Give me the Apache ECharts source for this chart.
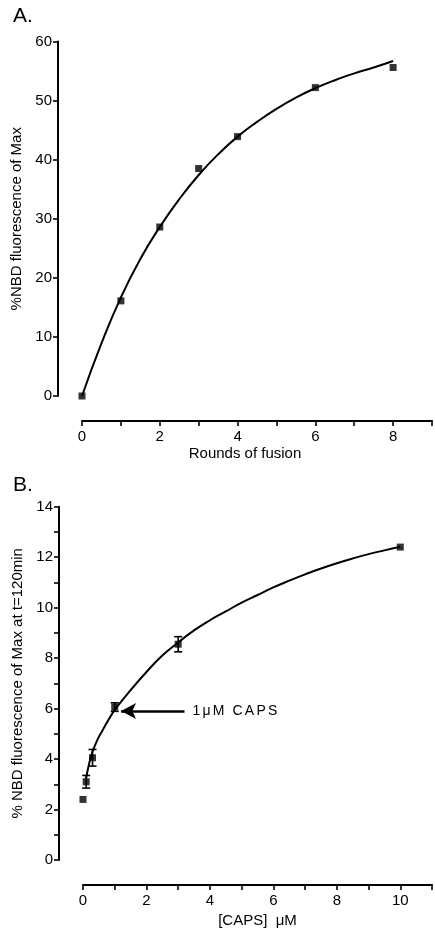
<!DOCTYPE html>
<html>
<head>
<meta charset="utf-8">
<script src="https://cdn.jsdelivr.net/npm/echarts@6/dist/echarts.min.js"></script>
<style>
  html, body { margin: 0; padding: 0; background: #fff; }
  #chart { width: 435px; height: 933px; }
</style>
</head>
<body>
<div id="chart"></div>
<script>
// panel A: rounds of fusion
var roundsX = [0, 1, 2, 3, 4, 6, 8];
var roundsY = [0, 16.1, 28.6, 38.5, 43.9, 52.2, 55.6];
// fitted curve
var fitAX = [0, 0.5, 1, 1.5, 2, 2.5, 3, 3.5, 4, 4.5, 5, 5.5, 6, 6.5, 7, 7.5, 8];
var fitAY = [0, 8.9, 16.7, 23.2, 28.6, 33.3, 37.4, 40.9, 43.9, 46.4, 48.6, 50.5, 52.1, 53.45, 54.6, 55.6, 56.7];

// panel B: CAPS concentration
var capsX = [0, 0.1, 0.3, 1, 3, 10];
var capsY = [2.4, 3.1, 4.05, 6.06, 8.55, 12.4];
var capsErr = [0, 0.25, 0.33, 0.17, 0.3, 0];
var fitBX = [0.1, 0.2, 0.3, 0.4, 0.5, 0.6, 0.7, 0.8, 0.9, 1, 1.5, 2, 2.5, 3, 3.5, 4, 4.5, 5,
	5.5, 6, 6.5, 7, 7.5, 8, 8.5, 9, 9.5, 10];
var fitBY = [3.25, 3.85, 4.3, 4.6, 4.88, 5.1, 5.33, 5.55, 5.76, 5.95, 6.73, 7.45, 8.1, 8.62, 9.1, 9.5, 9.85, 10.2,
	10.5, 10.8, 11.07, 11.32, 11.55, 11.76, 11.95, 12.12, 12.27, 12.41];

// arrow note
var noteFrom = [3.2, 5.9];
var noteTo = [1.2, 5.9];

var FONT = 'Liberation Sans, Arial, sans-serif';

function pairs(xs, ys){
	var out = [];
	for(var i = 0; i < xs.length; i++){
		out.push([xs[i], ys[i]]);
	}
	return out;
}

function evenOnly(v){
	return v % 2 === 0 ? String(v) : '';
}

function baseAxis(){
	return {
		type: 'value',
		axisLine: { show: true, onZero: false, lineStyle: { color: '#000', width: 2 } },
		axisTick: { show: true, inside: false, length: 5, lineStyle: { color: '#000', width: 1.6 } },
		splitLine: { show: false },
		axisLabel: { color: '#000', fontSize: 15, fontFamily: FONT },
		nameTextStyle: { color: '#000', fontSize: 15, fontFamily: FONT },
		nameLocation: 'middle'
	};
}

function xAxisOf(grid, max, name, gap, extra){
	var ax = baseAxis();
	ax.gridIndex = grid;
	ax.min = 0;
	ax.max = max;
	ax.interval = 1;
	ax.offset = 25;
	ax.name = name;
	ax.nameGap = gap;
	ax.axisLabel.margin = 8;
	ax.axisLabel.formatter = evenOnly;
	if(extra){
		ax.nameTextStyle.padding = extra;
	}
	return ax;
}

function yAxisOf(grid, max, interval, name, labels){
	var ax = baseAxis();
	ax.gridIndex = grid;
	ax.min = 0;
	ax.max = max;
	ax.interval = interval;
	ax.offset = 24;
	ax.name = name;
	ax.nameGap = 32;
	ax.axisLabel.margin = 6;
	if(labels){
		ax.axisLabel.formatter = labels;
	}
	return ax;
}

// spaced lettering, as in the figure
function spaced(txt){
	var out = '';
	for(var i = 0; i < txt.length; i++){
		var c = txt.charAt(i);
		out += c === ' ' ? '{g| }' : '{s|' + c + '}';
	}
	return out;
}

function errorBars(params, api){
	var x = api.value(0), y = api.value(1), e = api.value(2);
	if(!e){
		return null;
	}
	var top = api.coord([x, y + e]);
	var bot = api.coord([x, y - e]);
	var cap = 4;
	var st = { stroke: '#000', lineWidth: 1.6 };
	return {
		type: 'group',
		children: [
			{ type: 'line', shape: { x1: top[0], y1: top[1], x2: bot[0], y2: bot[1] }, style: st },
			{ type: 'line', shape: { x1: top[0] - cap, y1: top[1], x2: top[0] + cap, y2: top[1] }, style: st },
			{ type: 'line', shape: { x1: bot[0] - cap, y1: bot[1], x2: bot[0] + cap, y2: bot[1] }, style: st }
		]
	};
}

var errData = [];
for(var i = 0; i < capsX.length; i++){
	errData.push([capsX[i], capsY[i], capsErr[i]]);
}

var option = {
	animation: false,
	backgroundColor: '#fff',
	grid: [
		{ left: 82, width: 356.6, top: 41.5, height: 354.5 },
		{ left: 83, width: 354.5, top: 506.7, height: 353.3 }
	],
	xAxis: [
		xAxisOf(0, 9, 'Rounds of fusion', 25, [0, 24, 0, 0]),
		xAxisOf(1, 11, '[CAPS]  \u03bcM', 28)
	],
	yAxis: [
		yAxisOf(0, 60, 10, '%NBD fluorescence of Max'),
		yAxisOf(1, 14, 1, '% NBD fluorescence of Max at t=120min', evenOnly)
	],
	graphic: [
		{ type: 'text', left: 13, top: 6, style: { text: 'A.', fontSize: 21, fontFamily: FONT, fill: '#000' } },
		{ type: 'text', left: 13, top: 475, style: { text: 'B.', fontSize: 21, fontFamily: FONT, fill: '#000' } }
	],
	series: [
		{
			type: 'line', xAxisIndex: 0, yAxisIndex: 0,
			data: pairs(fitAX, fitAY), smooth: true, showSymbol: false,
			lineStyle: { color: '#000', width: 2 }, z: 2
		},
		{
			type: 'scatter', xAxisIndex: 0, yAxisIndex: 0,
			data: pairs(roundsX, roundsY), symbol: 'rect', symbolSize: 7,
			itemStyle: { color: '#000' }, z: 3
		},
		{
			type: 'line', xAxisIndex: 1, yAxisIndex: 1,
			data: pairs(fitBX, fitBY), smooth: true, showSymbol: false,
			lineStyle: { color: '#000', width: 2 }, z: 2,
			markLine: {
				silent: true,
				symbol: ['none', 'arrow'],
				symbolSize: [12, 15],
				lineStyle: { color: '#000', width: 2.5, type: 'solid' },
				label: {
					show: true, position: 'start', distance: 8,
					color: '#000', fontSize: 14, fontFamily: FONT,
					formatter: spaced('1\u03bcM CAPS'),
					rich: {
						s: { color: '#000', fontSize: 14, fontFamily: FONT, padding: [0, 2.2, 0, 0] },
						g: { color: '#000', fontSize: 14, fontFamily: FONT, padding: [0, 2, 0, 0] }
					}
				},
				data: [[{ coord: noteFrom }, { coord: noteTo }]]
			}
		},
		{
			type: 'custom', xAxisIndex: 1, yAxisIndex: 1,
			data: errData, renderItem: errorBars, z: 3
		},
		{
			type: 'scatter', xAxisIndex: 1, yAxisIndex: 1,
			data: pairs(capsX, capsY), symbol: 'rect', symbolSize: 7,
			itemStyle: { color: '#000' }, z: 4
		}
	]
};

var chart = echarts.init(document.getElementById('chart'));
chart.setOption(option);
</script>
</body>
</html>
